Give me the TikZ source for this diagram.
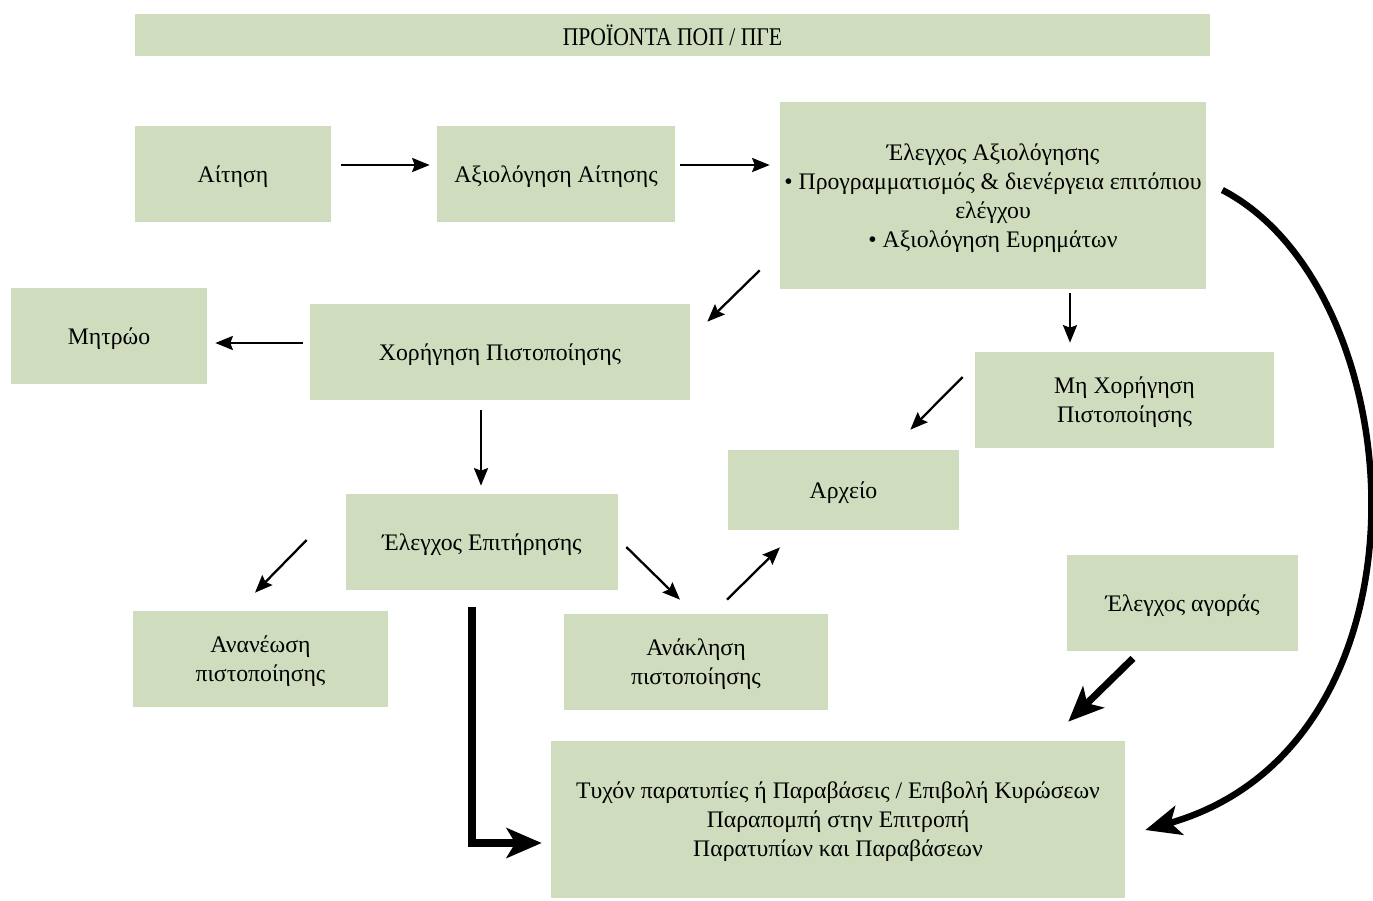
\documentclass[tikz,border=0pt]{standalone}
\usepackage{fontspec}
\setmainfont{Liberation Serif}
\newfontfamily\titlefont[FakeStretch=0.85]{Liberation Serif}
\usepackage{xcolor}
\usetikzlibrary{calc}
\usetikzlibrary{arrows.meta}
\definecolor{boxgreen}{RGB}{207,221,190}

\begin{document}
\begin{tikzpicture}[x=0.02cm,y=-0.02cm,
    box/.style={fill=boxgreen,inner sep=0pt,align=center,
      minimum height=1.92cm,text depth=-1pt,
      font=\fontsize{13.5}{16.5}\selectfont},
    arr/.style={line width=1.3pt,-{Stealth[length=10pt,width=8pt,inset=1.5pt]}},
    bigarr/.style={line width=#1,-{Stealth[length=20pt,width=17pt,inset=5pt]}}]
  \useasboundingbox (0,0) rectangle (1373,900);

  % boxes
  \node[fill=boxgreen,minimum width=21.5cm,minimum height=0.84cm,
    font=\titlefont\fontsize{14.5}{16}\selectfont] (title) at (672.5,35)
    {ΠΡΟΪΟΝΤΑ ΠΟΠ / ΠΓΕ};
  \node[box,minimum width=3.92cm] (request) at (233,174) {Αίτηση};
  \node[box,minimum width=4.76cm] (assess) at (556,174) {Αξιολόγηση Αίτησης};
  \node[box,minimum width=8.52cm,minimum height=3.74cm] (evaluation) at (993,195.5)
    {Έλεγχος Αξιολόγησης\\
     • Προγραμματισμός \& διενέργεια επιτόπιου\\
     ελέγχου\\
     • Αξιολόγηση Ευρημάτων};
  \node[box,minimum width=3.92cm] (registry) at (109,336) {Μητρώο};
  \node[box,minimum width=7.6cm] (grant) at (500,352) {Χορήγηση Πιστοποίησης};
  \node[box,minimum width=5.98cm] (refuse) at (1124.5,400)
    {Μη Χορήγηση\\Πιστοποίησης};
  \node[box,minimum width=4.62cm,minimum height=1.6cm] (archive) at (843.5,490) {Αρχείο};
  \node[box,minimum width=5.44cm] (surveil) at (482,542) {Έλεγχος Επιτήρησης};
  \node[box,minimum width=4.62cm] (market) at (1182.5,603) {Έλεγχος αγοράς};
  \node[box,minimum width=5.1cm] (renew) at (260.5,659)
    {Ανανέωση\\πιστοποίησης};
  \node[box,minimum width=5.28cm] (revoke) at (696,662)
    {Ανάκληση\\πιστοποίησης};
  \node[box,minimum width=11.48cm,minimum height=3.14cm] (breach) at (838,819.5)
    {Τυχόν παρατυπίες ή Παραβάσεις / Επιβολή Κυρώσεων\\
     Παραπομπή στην Επιτροπή\\
     Παρατυπίων και Παραβάσεων};

  % thin arrows
  \draw[arr] ($(request.east)+(10,-9)$) -- ($(assess.west)+(-7,-9)$);
  \draw[arr] ($(assess.east)+(5,-9)$) -- ($(evaluation.west)+(-10,-30.5)$);
  \draw[arr] ($(evaluation.south west)+(-20,-19)$) -- ($(grant.north east)+(17,18)$);
  \draw[arr] ($(grant.west)+(-7,-9)$) -- ($(registry.east)+(8,7)$);
  \draw[arr] ($(evaluation.south)+(77,4)$) -- ($(refuse.north)+(-54.5,-9)$);
  \draw[arr] ($(grant.south)+(-19,10)$) -- ($(surveil.north)+(-1,-8)$);
  \draw[arr] ($(refuse.west)+(-12,-23)$) -- ($(archive.north east)+(-49,-20)$);
  \draw[arr] ($(surveil.west)+(-39,-2)$) -- ($(renew.north)+(-5.5,-18)$);
  \draw[arr] ($(surveil.east)+(8,5)$) -- ($(revoke.north)+(-16,-14)$);
  \draw[arr] ($(revoke.north)+(31,-14)$) -- ($(archive.south)+(-63.5,17)$);

  % thick arrows
  \draw[bigarr=5pt] ($(surveil.south)+(-10,17)$) |- ($(breach.west)+(-9,23.5)$);
  \draw[bigarr=4pt] ($(market.south)+(-49.5,7)$) -- ($(breach.north east)+(-57,-19)$);
  \draw[bigarr=3.7pt] ($(evaluation.east)+(16,-5.5)$)
    .. controls (1415,290) and (1445,745) .. ($(breach.east)+(20,10.5)$);
\end{tikzpicture}
\end{document}
